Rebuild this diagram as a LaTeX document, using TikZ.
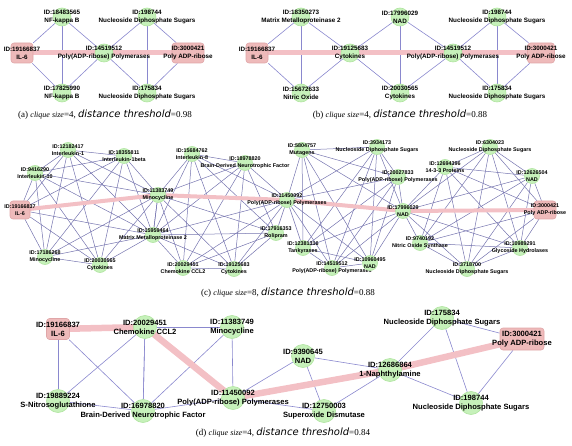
\documentclass[tikz,border=0pt]{standalone}
\usepackage{fontspec}
\setmainfont{Liberation Serif}
\setsansfont{Liberation Sans}
\newfontfamily\capsans{DejaVu Sans}
\usetikzlibrary{backgrounds}

\definecolor{nodegreen}{RGB}{198,241,186}
\definecolor{nodeline}{RGB}{176,228,160}
\definecolor{pinkfill}{RGB}{238,186,186}
\definecolor{pinkline}{RGB}{224,166,168}
\definecolor{pathpink}{RGB}{243,192,197}
\definecolor{edgeblue}{RGB}{138,136,206}

% all pairs of a clique
\newcommand{\cliq}[1]{%
  \foreach \na [count=\ia] in {#1}{%
    \foreach \nb [count=\ib] in {#1}{%
      \ifnum\ib>\ia \draw[edge] (\na) -- (\nb);\fi}}}

\begin{document}
\begin{tikzpicture}[x=1pt, y=-1pt,
    gsize/.style={minimum size=18pt},
    lbl/.style={align=center, inner sep=0pt, font=\sffamily\bfseries\fontsize{6.3}{7.8}\selectfont},
    gn/.style={circle, fill=nodegreen, draw=nodeline, line width=0.6pt, inner sep=0pt, gsize, label={[lbl]center:{#1}}},
    pk/.style={rectangle, rounded corners=3pt, fill=pinkfill, draw=pinkline, line width=0.6pt, inner sep=0pt, minimum height=20pt, label={[lbl]center:{#1}}},
    edge/.style={draw=edgeblue, line width=0.6pt},
    hl/.style={draw=pathpink, line width=5pt, line cap=round},
    captxt/.style={font=\fontsize{9}{10}\selectfont, inner sep=0pt},
  ]
  \useasboundingbox (0,0) rectangle (572,446);

  % (a)
  \node[pk={ID:19166837\\IL-6}, minimum width=22pt] (aIL6) at (22,53) {};
  \node[gn={ID:18483565\\NF-kappa B}] (a18483565) at (62,17) {};
  \node[gn={ID:17825990\\NF-kappa B}] (a17825990) at (62,93) {};
  \node[gn={ID:14519512\\Poly(ADP-ribose) Polymerases}] (a14519512) at (104,53) {};
  \node[gn={ID:198744\\Nucleoside Diphosphate Sugars}] (a198744) at (147,17) {};
  \node[gn={ID:175834\\Nucleoside Diphosphate Sugars}] (a175834) at (147,93) {};
  \node[pk={ID:3000421\\Poly ADP-ribose}, minimum width=32pt] (a3000421) at (188,53) {};
  \begin{scope}[on background layer]
    \cliq{aIL6,a18483565,a17825990,a14519512}
    \cliq{a14519512,a198744,a175834,a3000421}
    \draw[hl] (aIL6.center) -- (a3000421.center);
  \end{scope}
  \node[captxt] (capa) at (105,115) {(a) {\itshape\fontsize{8}{9}\selectfont clique size}=4, {\capsans\itshape\fontsize{10}{11}\selectfont distance threshold}=0.98};

  % (b)
  \node[pk={ID:19166837\\IL-6}, minimum width=22pt] (bIL6) at (257,53) {};
  \node[gn={ID:18350273\\Matrix Metalloproteinase 2}] (b18350273) at (301,17) {};
  \node[gn={ID:15672633\\Nitric Oxide}] (b15672633) at (301,93) {};
  \node[gn={ID:19125683\\Cytokines}] (b19125683) at (350,53) {};
  \node[gn={ID:17996029\\NAD}] (b17996029) at (400,17) {};
  \node[gn={ID:20030565\\Cytokines}] (b20030565) at (400,93) {};
  \node[gn={ID:14519512\\Poly(ADP-ribose) Polymerases}] (b14519512) at (453,53) {};
  \node[gn={ID:198744\\Nucleoside Diphosphate Sugars}] (b198744) at (497,17) {};
  \node[gn={ID:175834\\Nucleoside Diphosphate Sugars}] (b175834) at (497,93) {};
  \node[pk={ID:3000421\\Poly ADP-ribose}, minimum width=27pt] (b3000421) at (541,53) {};
  \begin{scope}[on background layer]
    \cliq{bIL6,b18350273,b15672633,b19125683}
    \cliq{b19125683,b17996029,b20030565,b14519512}
    \cliq{b14519512,b198744,b175834,b3000421}
    \draw[hl] (bIL6.center) -- (b3000421.center);
  \end{scope}
  \node[captxt] (capb) at (400,115) {(b) {\itshape\fontsize{8}{9}\selectfont clique size}=4, {\capsans\itshape\fontsize{10}{11}\selectfont distance threshold}=0.88};

  % (c)
  \begin{scope}[gsize/.style={minimum size=15pt},
      lbl/.style={align=center, inner sep=0pt, font=\sffamily\bfseries\fontsize{5.4}{6.8}\selectfont},
      hl/.style={draw=pathpink, line width=4pt, line cap=round},
      edge/.style={draw=edgeblue!85!black, line width=0.5pt}]
    \node[pk={ID:19166837\\IL-6}, minimum width=20pt, minimum height=18pt] (cIL6) at (20,210) {};
    \node[gn={ID:12182417\\Interleukin-1}] (c12182417) at (68,150) {};
    \node[gn={ID:18355811\\Interleukin-1beta}] (c18355811) at (124,156) {};
    \node[gn={ID:9416290\\Interleukin-10}] (c9416290) at (35,173) {};
    \node[gn={ID:11383749\\Minocycline}] (c11383749) at (158,195) {};
    \node[gn={ID:15959464\\Matrix Metalloproteinase 2}] (c15959464) at (153,235) {};
    \node[gn={ID:17186268\\Minocycline}] (c17186268) at (45,257) {};
    \node[gn={ID:20030565\\Cytokines}] (c20030565) at (100,265) {};
    \node[gn={ID:15684762\\Interleukin-8}] (c15684762) at (192,154) {};
    \node[gn={ID:18978820\\Brain-Derived Neurotrophic Factor}] (c18978820) at (245,163) {};
    \node[gn={ID:11450092\\Poly(ADP-ribose) Polymerases}] (c11450092) at (287,200) {};
    \node[gn={ID:17916353\\Rolipram}] (c17916353) at (276,233) {};
    \node[gn={ID:20029451\\Chemokine CCL2}] (c20029451) at (183,268) {};
    \node[gn={ID:19125683\\Cytokines}] (c19125683) at (234,269) {};
    \node[gn={ID:5804757\\Mutagens}] (c5804757) at (302,150) {};
    \node[gn={ID:3934173\\Nucleoside Diphosphate Sugars}] (c3934173) at (377,147) {};
    \node[gn={ID:20027833\\Poly(ADP-ribose) Polymerases}] (c20027833) at (398,177) {};
    \node[gn={ID:17996029\\NAD}] (c17996029) at (403,211) {};
    \node[gn={ID:12381316\\Tankyrases}] (c12381316) at (303,248) {};
    \node[gn={ID:14519512\\Poly(ADP-ribose) Polymerases}] (c14519512) at (332,268) {};
    \node[gn={ID:10960495\\NAD}] (c10960495) at (370,263) {};
    \node[gn={ID:6304023\\Nucleoside Diphosphate Sugars}] (c6304023) at (490,147) {};
    \node[gn={ID:12694396\\14-3-3 Proteins}] (c12694396) at (445,167) {};
    \node[gn={ID:12626504\\NAD}] (c12626504) at (532,176) {};
    \node[pk={ID:3000421\\Poly ADP-ribose}, minimum width=22pt, minimum height=18pt] (c3000421) at (545,210) {};
    \node[gn={ID:9740192\\Nitric Oxide Synthase}] (c9740192) at (420,243) {};
    \node[gn={ID:10989291\\Glycoside Hydrolases}] (c10989291) at (520,248) {};
    \node[gn={ID:3718700\\Nucleoside Diphosphate Sugars}] (c3718700) at (467,269) {};
    \begin{scope}[on background layer]
      \cliq{cIL6,c12182417,c18355811,c9416290,c11383749,c15959464,c17186268,c20030565}
      \cliq{c11383749,c15959464,c15684762,c18978820,c11450092,c17916353,c20029451,c19125683}
      \cliq{c11450092,c5804757,c3934173,c20027833,c17996029,c12381316,c14519512,c10960495}
      \cliq{c17996029,c6304023,c12694396,c12626504,c3000421,c9740192,c10989291,c3718700}
      \draw[hl] (cIL6.center) -- (c11383749.center) -- (c11450092.center)
        -- (c17996029.center) -- (c3000421.center);
    \end{scope}
  \end{scope}
  \node[captxt] (capc) at (288,293) {(c) {\itshape\fontsize{8}{9}\selectfont clique size}=8, {\capsans\itshape\fontsize{10}{11}\selectfont distance threshold}=0.88};

  % (d)
  \begin{scope}[gsize/.style={minimum size=23pt},
      lbl/.style={align=center, inner sep=0pt, font=\sffamily\bfseries\fontsize{7.6}{9.2}\selectfont},
      hl/.style={draw=pathpink, line width=6.5pt, line cap=round}]
    \node[pk={ID:19166837\\IL-6}, minimum width=23pt, minimum height=21pt] (dIL6) at (58,329) {};
    \node[gn={ID:20029451\\Chemokine CCL2}] (d20029451) at (145,327) {};
    \node[gn={ID:11383749\\Minocycline}] (d11383749) at (232,327) {};
    \node[gn={ID:19889224\\S-Nitrosoglutathione}] (d19889224) at (58,401) {};
    \node[gn={ID:16978820\\Brain-Derived Neurotrophic Factor}] (d16978820) at (143,411) {};
    \node[gn={ID:11450092\\Poly(ADP-ribose) Polymerases}] (d11450092) at (233,398) {};
    \node[gn={ID:9390645\\NAD}] (d9390645) at (303,356) {};
    \node[gn={ID:12750003\\Superoxide Dismutase}] (d12750003) at (324,411) {};
    \node[gn={ID:12686864\\1-Naphthylamine}] (d12686864) at (390,370) {};
    \node[gn={ID:175834\\Nucleoside Diphosphate Sugars}] (d175834) at (442,318) {};
    \node[pk={ID:3000421\\Poly ADP-ribose}, minimum width=44pt, minimum height=22pt] (d3000421) at (522,339) {};
    \node[gn={ID:198744\\Nucleoside Diphosphate Sugars}] (d198744) at (471,403) {};
    \begin{scope}[on background layer]
      \cliq{dIL6,d20029451,d19889224,d16978820}
      \cliq{d20029451,d11383749,d16978820,d11450092}
      \cliq{d11450092,d9390645,d12750003,d12686864}
      \cliq{d12686864,d175834,d198744,d3000421}
      \draw[hl] (dIL6.center) -- (d20029451.center) -- (d11450092.center)
        -- (d12686864.center) -- (d3000421.center);
    \end{scope}
  \end{scope}
  \node[captxt] (capd) at (283,433) {(d) {\itshape\fontsize{8}{9}\selectfont clique size}=4, {\capsans\itshape\fontsize{10}{11}\selectfont distance threshold}=0.84};
\end{tikzpicture}
\end{document}
